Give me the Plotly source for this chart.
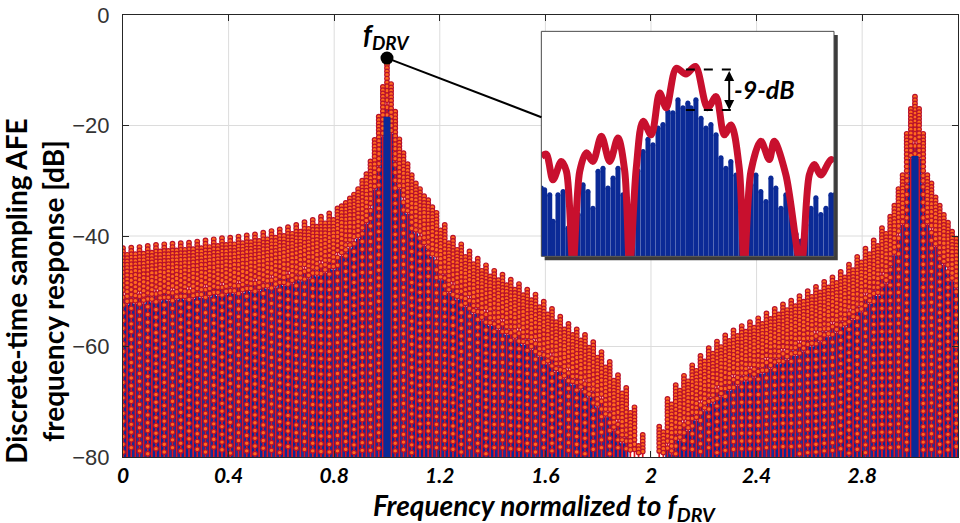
import plotly.graph_objects as go

# ---------------------------------------------------------------------------
# Main response: a comb with one tooth every f_DRV/32
# ---------------------------------------------------------------------------
TEETH_PER_FDRV = 32
FLOOR_DB = -80

# top of each comb tooth k (f = k/32), dB; None = below the -80 dB floor
RED_TOOTH_DB = [
    -42.2, -42.1, -42.0, -41.8, -41.6, -41.5, -41.4, -41.3, -41.2, -41.0,
    -40.8, -40.6, -40.4, -40.3, -40.1, -39.9, -39.7, -39.4, -39.1, -38.8,
    -38.4, -38.0, -37.5, -37.1, -36.5, -35.9, -35.0, -34.0, -32.5, -30.0,
    -26.5, -18.4, -7.8, -17.5, -25.0, -29.0, -31.5, -33.5, -35.8, -38.0,
    -40.3, -41.5, -42.8, -44.1, -45.3, -46.3, -47.0, -47.9, -48.7, -49.7,
    -50.6, -51.9, -53.2, -54.6, -55.9, -56.9, -57.9, -59.2, -61.0, -62.8,
    -65.2, -67.5, -71.0, -76.0, None, -74.5, -69.5, -67.0, -65.3, -63.4,
    -61.7, -60.3, -59.1, -58.0, -57.1, -56.3, -55.6, -54.9, -54.0, -53.2,
    -52.4, -51.7, -50.9, -50.0, -49.2, -48.3, -47.5, -46.5, -45.2, -43.8,
    -42.3, -40.8, -38.6, -36.5, -31.5, -21.5, -14.8, -21.5, -30.5, -34.5,
    -37.6, -40.5,
]

# level of the notch between tooth k and tooth k+1, dB
RED_NOTCH_DB = [
    -43.4, -43.3, -43.2, -43.0, -42.8, -42.7, -42.6, -42.5, -42.4, -42.2,
    -42.0, -41.8, -41.6, -41.5, -41.3, -41.1, -40.9, -40.6, -40.3, -40.0,
    -39.6, -39.2, -38.7, -38.3, -37.7, -37.1, -34.6, -33.2, -31.5, -28.8,
    -22.6, -13.0, -12.5, -22.5, -27.0, -30.5, -32.8, -34.8, -39.0, -41.3,
    -42.5, -43.8, -45.1, -46.3, -47.3, -48.0, -48.9, -49.7, -50.7, -51.6,
    -52.9, -54.2, -55.6, -56.9, -57.9, -58.9, -60.2, -62.0, -63.8, -66.2,
    -68.5, -72.0, -78.0, None, None, -75.5, -70.5, -68.0, -66.3, -64.4,
    -62.7, -61.3, -60.1, -59.0, -58.1, -57.3, -56.6, -55.9, -55.0, -54.2,
    -53.4, -52.7, -51.9, -51.0, -50.2, -49.3, -48.5, -47.5, -46.2, -44.8,
    -43.3, -41.8, -39.6, -34.5, -29.0, -17.0, -17.0, -29.0, -33.0, -36.2,
    -39.2,
]

# discrete-time sampled response sits 9 dB under the continuous one
BLUE_BELOW_RED_DB = 9
DRIVE_F = [1, 3]
DRIVE_BLUE_DB = [-18.4, -25.5]

# dB below the tooth top of the stacked samples in each tooth column
TOOTH_DROPS_EVEN = [
    0, 0.6, 1.2, 1.8, 2.4, 3.0, 3.7, 4.4, 5.1, 5.9, 6.7, 7.6,
    8.9, 10.3, 11.7, 13.1, 14.5, 15.9, 17.3, 18.7, 20.1, 21.5, 22.9, 24.3,
    25.7, 27.1, 28.5, 29.9, 31.3, 32.7, 34.1, 35.5, 36.9, 38.3, 39.7, 41.1,
    42.5, 43.9, 45.3, 46.7, 48.1, 49.5, 50.9, 52.3, 53.7, 55.1, 56.5, 57.9,
    59.3, 60.7, 62.1, 63.5, 64.9, 66.3, 67.7, 69.1, 70.5, 71.9,
]
TOOTH_DROPS_ODD = [
    0, 0.6, 1.2, 1.8, 2.4, 3.0, 3.7, 4.4, 5.1, 5.9, 6.7, 7.6,
    8.5, 9.6, 11.0, 12.4, 13.8, 15.2, 16.6, 18.0, 19.4, 20.8, 22.2, 23.6,
    25.0, 26.4, 27.8, 29.2, 30.6, 32.0, 33.4, 34.8, 36.2, 37.6, 39.0, 40.4,
    41.8, 43.2, 44.6, 46.0, 47.4, 48.8, 50.2, 51.6, 53.0, 54.4, 55.8, 57.2,
    58.6, 60.0, 61.4, 62.8, 64.2, 65.6, 67.0, 68.4, 69.8, 71.2, 72.6,
]
NOTCH_DROPS = [0, 0.6, 1.2, 1.8, 2.4, 3.0, 3.7, 4.4, 5.1, 5.9, 6.7, 7.5, 8.4]

# ---------------------------------------------------------------------------
# Zoom around f_DRV (offset from f_DRV in units of 1e-3 f_DRV)
# ---------------------------------------------------------------------------
INSET_RED_OFFSET = [
    -8.0, -7.73, -7.36, -6.91, -6.63, -6.27, -5.90, -5.54, -5.18, -4.72,
    -4.26, -3.81, -3.44, -3.17, -2.81, -2.44, -1.99, -1.53, -1.17, -0.62,
    -0.10, 0.42, 1.09, 1.55, 2.00, 2.37, 2.82, 3.09, 3.46, 4.00,
    4.46, 4.73, 5.37, 6.19, 6.65, 6.92, 7.28, 7.83, 8.0,
]
INSET_RED_DB = [
    -27.8, -27.3, -33.0, -28.9, -31.1, -52.0, -31.1, -27.0, -28.9, -23.3,
    -28.9, -23.7, -31.1, -52.0, -30.4, -20.0, -23.0, -13.7, -17.0, -8.2,
    -9.5, -7.8, -17.0, -14.5, -23.0, -20.8, -30.4, -52.0, -31.1, -24.4,
    -28.5, -24.4, -31.9, -52.0, -31.9, -29.6, -31.9, -28.5, -29.0,
]
INSET_BLUE_OFFSET = [
    -8.00, -7.82, -7.54, -7.36, -7.09, -6.81, -6.54, -6.27, -5.99, -5.72,
    -5.45, -5.18, -4.90, -4.63, -4.36, -4.08, -3.81, -3.54, -3.26, -2.99,
    -2.72, -2.44, -2.17, -1.90, -1.62, -1.35, -1.08, -0.81, -0.53, -0.26,
    0.01, 0.18, 0.45, 0.73, 1.00, 1.27, 1.55, 1.82, 2.09, 2.36,
    2.64, 2.91, 3.18, 3.46, 3.73, 4.00, 4.28, 4.55, 4.82, 5.10,
    5.37, 5.64, 5.92, 6.19, 6.46, 6.74, 7.01, 7.28, 7.56, 7.83, 8.05,
]
INSET_BLUE_DB = [
    -34.8, -35.2, -36.3, -42.2, -36.3, -35.6, -43.7, -47.4, -40.7, -34.1,
    -35.6, -39.3, -31.1, -30.4, -34.8, -32.6, -30.4, -36.3, -44.0, -42.0,
    -31.0, -26.7, -24.0, -25.2, -21.5, -20.7, -17.8, -18.1, -15.2, -17.0,
    -15.9, -17.0, -15.2, -19.3, -21.5, -20.7, -23.0, -28.1, -30.4, -28.9,
    -31.9, -40.0, -46.6, -34.1, -31.9, -35.6, -37.8, -32.6, -34.8, -39.3,
    -36.3, -39.0, -45.0, -46.6, -43.0, -39.3, -37.0, -40.7, -39.3, -36.3, -36.3,
]
INSET_PEAK_DB = -8.5
INSET_STEP_DB = 9

X_TICKS = [0, 0.4, 0.8, 1.2, 1.6, 2, 2.4, 2.8]
X_TICK_TEXT = ["0", "0.4", "0.8", "1.2", "1.6", "2", "2.4", "2.8"]
Y_TICKS = [0, -20, -40, -60, -80]

RED = "#e3141f"
RED_EDGE = "#b8112b"
ORANGE = "#ff6a1e"
BLUE = "#0b2a96"
INSET_RED = "#c8102e"
GRID = "#dcdcdc"


def stems(xs, tops, base):
    sx, sy = [], []
    for x, t in zip(xs, tops):
        sx += [x, x, None]
        sy += [base, t, None]
    return sx, sy


tooth_f, tooth_top = [], []
for k, v in enumerate(RED_TOOTH_DB):
    if v is not None:
        tooth_f.append(k / TEETH_PER_FDRV)
        tooth_top.append(v)
notch_f, notch_top = [], []
for k, v in enumerate(RED_NOTCH_DB):
    if v is not None:
        notch_f.append((k + 0.5) / TEETH_PER_FDRV)
        notch_top.append(v)

stem_f = tooth_f + notch_f
stem_top = tooth_top + notch_top
blue_top = [t - BLUE_BELOW_RED_DB for t in stem_top]

# stacked sample markers
mx, my = [], []
for k, v in enumerate(RED_TOOTH_DB):
    if v is None:
        continue
    drops = TOOTH_DROPS_EVEN if k % 2 == 0 else TOOTH_DROPS_ODD
    for d in drops:
        if v - d >= FLOOR_DB + 0.6:
            mx.append(k / TEETH_PER_FDRV)
            my.append(v - d)
for k, v in enumerate(RED_NOTCH_DB):
    if v is None:
        continue
    for d in NOTCH_DROPS:
        if v - d >= FLOOR_DB + 0.6:
            mx.append((k + 0.5) / TEETH_PER_FDRV)
            my.append(v - d)

fig = go.Figure()

bx, by = stems(stem_f, blue_top, FLOOR_DB)
fig.add_trace(go.Scatter(x=bx, y=by, mode="lines",
                         line=dict(color=BLUE, width=4.6), hoverinfo="skip"))
rx, ry = stems(stem_f, stem_top, FLOOR_DB)
fig.add_trace(go.Scatter(x=rx, y=ry, mode="lines",
                         line=dict(color=RED, width=1.7), hoverinfo="skip"))
fig.add_trace(go.Scatter(x=mx, y=my, mode="markers",
                         marker=dict(size=4.6, color=ORANGE,
                                     line=dict(color=RED_EDGE, width=1.2)),
                         hoverinfo="skip"))
dx, dy = stems(DRIVE_F, DRIVE_BLUE_DB, FLOOR_DB)
fig.add_trace(go.Scatter(x=dx, y=dy, mode="lines",
                         line=dict(color=BLUE, width=7), hoverinfo="skip"))
fig.add_trace(go.Scatter(x=[DRIVE_F[0]], y=[RED_TOOTH_DB[TEETH_PER_FDRV]],
                         mode="markers",
                         marker=dict(size=13, color="black"), hoverinfo="skip"))

# zoomed view around f_DRV
ix, iy = stems(INSET_BLUE_OFFSET, INSET_BLUE_DB, -50)
fig.add_trace(go.Scatter(x=ix, y=iy, mode="lines", xaxis="x2", yaxis="y2",
                         line=dict(color=BLUE, width=5), hoverinfo="skip"))
fig.add_trace(go.Scatter(x=INSET_BLUE_OFFSET, y=INSET_BLUE_DB, mode="markers",
                         xaxis="x2", yaxis="y2",
                         marker=dict(size=5, color=BLUE), hoverinfo="skip"))
fig.add_trace(go.Scatter(x=INSET_RED_OFFSET, y=INSET_RED_DB, mode="lines",
                         xaxis="x2", yaxis="y2",
                         line=dict(color=INSET_RED, width=7, shape="spline",
                                   smoothing=0.9),
                         hoverinfo="skip"))

INSET_DOM_X = [0.501, 0.8515]
INSET_DOM_Y = [0.454, 0.963]

shapes = []
# main grid, drawn as shapes so the zoomed view can sit on top of it
for gx in X_TICKS[1:]:
    shapes.append(dict(type="line", xref="x", yref="y domain", layer="below",
                       x0=gx, x1=gx, y0=0, y1=1, line=dict(color=GRID, width=1)))
for gy in Y_TICKS[1:-1]:
    shapes.append(dict(type="line", xref="x domain", yref="y", layer="below",
                       x0=0, x1=1, y0=gy, y1=gy, line=dict(color=GRID, width=1)))
# zoomed view: drop shadow, white face, own grid
shapes.append(dict(type="rect", xref="paper", yref="paper", layer="below",
                   x0=INSET_DOM_X[0] + 0.004, x1=INSET_DOM_X[1] + 0.0045,
                   y0=INSET_DOM_Y[0] - 0.009, y1=INSET_DOM_Y[1] - 0.008,
                   fillcolor="#3c3c3c", line=dict(width=0)))
shapes.append(dict(type="rect", xref="paper", yref="paper", layer="below",
                   x0=INSET_DOM_X[0], x1=INSET_DOM_X[1],
                   y0=INSET_DOM_Y[0], y1=INSET_DOM_Y[1],
                   fillcolor="white", line=dict(width=0)))
for gx in [-4, 0, 4]:
    shapes.append(dict(type="line", xref="x2", yref="y2 domain", layer="below",
                       x0=gx, x1=gx, y0=0, y1=1, line=dict(color=GRID, width=1)))
for gy in [-10, -20, -30, -40]:
    shapes.append(dict(type="line", xref="x2 domain", yref="y2", layer="below",
                       x0=0, x1=1, y0=gy, y1=gy, line=dict(color=GRID, width=1)))
shapes.append(dict(type="rect", xref="paper", yref="paper", layer="above",
                   x0=INSET_DOM_X[0], x1=INSET_DOM_X[1],
                   y0=INSET_DOM_Y[0], y1=INSET_DOM_Y[1],
                   line=dict(color="#4a4a4a", width=1)))
# connector from the f_DRV tone to the zoomed view
shapes.append(dict(type="line", xref="x", yref="y", layer="above",
                   x0=DRIVE_F[0], y0=RED_TOOTH_DB[TEETH_PER_FDRV],
                   x1=1.585, y1=-18.5, line=dict(color="black", width=2)))
# -9 dB markers
for lvl in [INSET_PEAK_DB, INSET_PEAK_DB - INSET_STEP_DB]:
    shapes.append(dict(type="line", xref="x2", yref="y2", layer="above",
                       x0=-0.1, x1=2.85, y0=lvl, y1=lvl,
                       line=dict(color="black", width=2, dash="dash")))

annotations = [
    dict(x=2.27, y=INSET_PEAK_DB - INSET_STEP_DB, ax=2.27, ay=INSET_PEAK_DB,
         xref="x2", yref="y2", axref="x2", ayref="y2", text="",
         showarrow=True, arrowhead=2, arrowside="end+start", arrowsize=1,
         arrowwidth=2, arrowcolor="black"),
    dict(x=4.2, y=-12.8, xref="x2", yref="y2", text="-9-dB", showarrow=False,
         xanchor="center", yanchor="middle",
         font=dict(family="Lato", size=25, color="black", weight="bold",
                   style="italic")),
    dict(x=DRIVE_F[0], y=RED_TOOTH_DB[TEETH_PER_FDRV], xref="x", yref="y",
         yshift=23, text="f<sub>DRV</sub>", showarrow=False,
         xanchor="center", yanchor="middle",
         font=dict(family="Lato", size=27, color="black", weight="bold",
                   style="italic")),
    dict(x=0.505, y=-0.112, xref="paper", yref="paper",
         xanchor="center", yanchor="middle",
         text="Frequency normalized to f<sub>DRV</sub>", showarrow=False,
         font=dict(family="Lato", size=28, color="black", weight="bold",
                   style="italic")),
    dict(x=-0.1066, y=0.376, xref="paper", yref="paper", textangle=-90,
         xanchor="center", yanchor="middle",
         text="Discrete-time sampling AFE<br>frequency response [dB]",
         showarrow=False,
         font=dict(family="Lato", size=28, color="black", weight="bold")),
]

fig.update_layout(
    width=960, height=523,
    margin=dict(l=123, r=2, t=15, b=66),
    paper_bgcolor="white", plot_bgcolor="white",
    showlegend=False,
    xaxis=dict(range=[0, 3.163], tickvals=X_TICKS, ticktext=X_TICK_TEXT,
               showgrid=False, zeroline=False,
               showline=True, linecolor="#262626", linewidth=1, mirror="ticks",
               ticks="inside", ticklen=6, tickcolor="#262626",
               tickfont=dict(family="Lato", size=21, color="black",
                             weight="bold", style="italic"),
               ticklabelstandoff=0),
    yaxis=dict(range=[FLOOR_DB, 0], tickvals=Y_TICKS,
               showgrid=False, zeroline=False,
               showline=True, linecolor="#262626", linewidth=1, mirror="ticks",
               ticks="inside", ticklen=6, tickcolor="#262626",
               tickfont=dict(family="Liberation Sans", size=22, color="#333333"),
               ticklabelstandoff=8),
    xaxis2=dict(domain=INSET_DOM_X, anchor="y2", range=[-8, 8], visible=False),
    yaxis2=dict(domain=INSET_DOM_Y, anchor="x2", range=[-50, 0], visible=False),
    shapes=shapes,
    annotations=annotations,
)

fig.write_html("out.html")
